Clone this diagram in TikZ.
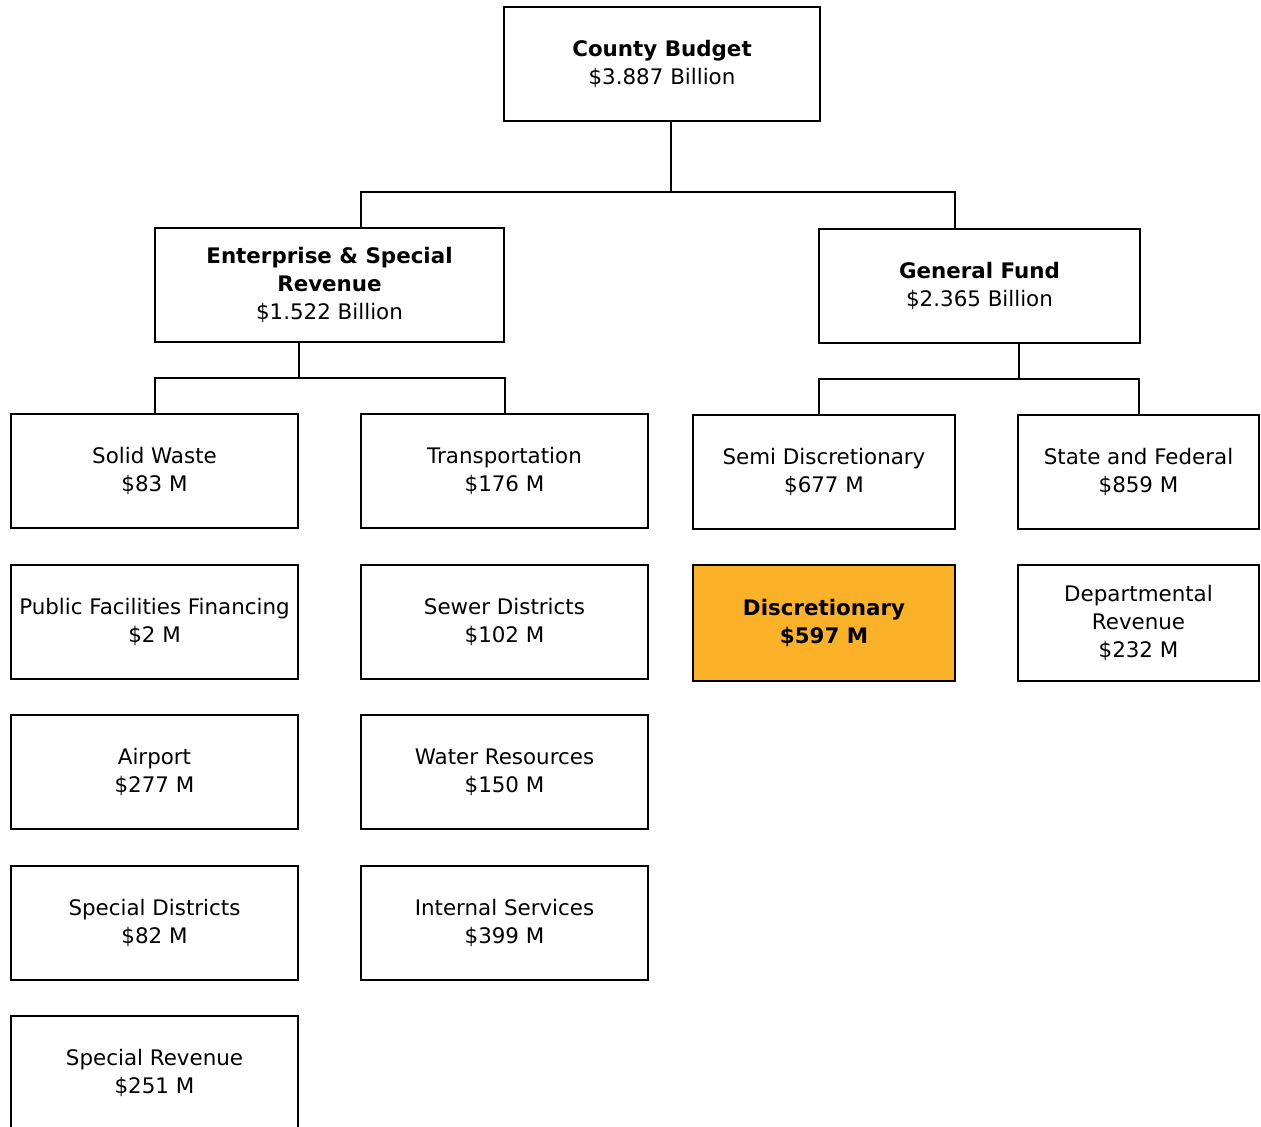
\documentclass[tikz,border=0pt]{standalone}
\usepackage{fontspec}
\setmainfont{DejaVu Sans}
\usepackage{xcolor}
\definecolor{discorange}{RGB}{251,177,40}

\begin{document}
\begin{tikzpicture}[x=0.5pt,y=-0.5pt,
    box/.style={draw,line width=1pt,align=center,inner sep=0pt,
        minimum width=143.5pt,minimum height=57pt,
        font=\fontsize{10.7}{14}\selectfont},
    link/.style={line width=1pt}]
    \useasboundingbox (0,0) rectangle (1261,1126);
    % top level
    \node[box,minimum width=158pt] (county) at (662,64)
        {\textbf{County Budget}\\\$3.887 Billion};
    \node[box,minimum width=174.5pt] (ent) at (329.5,285)
        {\textbf{Enterprise \& Special}\\\textbf{Revenue}\\\$1.522 Billion};
    \node[box,minimum width=160.5pt] (gen) at (979.5,286)
        {\textbf{General Fund}\\\$2.365 Billion};
    % enterprise columns
    \foreach[count=\i] \name/\amt in {Solid Waste/83,Public Facilities Financing/2,
        Airport/277,Special Districts/82,Special Revenue/251}{
        \node[box] (ew\i) at (154.5,{471+150.5*(\i-1)}) {\name\\\$\amt\ M};
    }
    \foreach[count=\i] \name/\amt in {Transportation/176,Sewer Districts/102,
        Water Resources/150,Internal Services/399}{
        \node[box] (tr\i) at (504.5,{471+150.5*(\i-1)}) {\name\\\$\amt\ M};
    }
    % general fund columns
    \node[box,minimum width=131pt] (semi) at (824,471.5) {Semi Discretionary\\\$677 M};
    \node[box,minimum width=131pt,minimum height=58pt,fill=discorange] (disc) at (824,623)
        {\textbf{Discretionary}\\\textbf{\$597 M}};
    \node[box,minimum width=120.5pt] (state) at (1138.5,472) {State and Federal\\\$859 M};
    \node[box,minimum width=120.5pt,minimum height=58pt] (dept) at (1138.5,623)
        {Departmental\\Revenue\\\$232 M};
    % connectors
    \coordinate (cbus) at (671,192);
    \coordinate (edrop) at (361,192);
    \coordinate (gdrop) at (955,192);
    \coordinate (ebus) at (299,378);
    \coordinate (gbus) at (1019,379);
    \coordinate (sdrop) at (819,379);
    \draw[link] (county.south -| cbus) -- (cbus);
    \draw[link] (ent.north -| edrop) -- (edrop) -- (gdrop) -- (gen.north -| gdrop);
    \draw[link] (ent.south -| ebus) -- (ebus);
    \draw[link] (ew1.north) |- (ebus) -| (tr1.north);
    \draw[link] (gen.south -| gbus) -- (gbus);
    \draw[link] (semi.north -| sdrop) -- (sdrop) -| (state.north);
\end{tikzpicture}
\end{document}
